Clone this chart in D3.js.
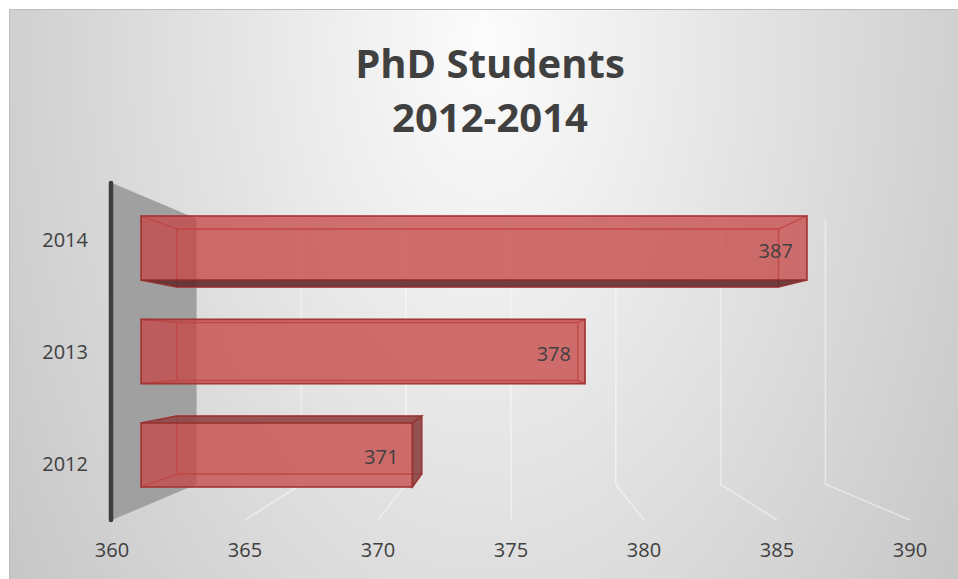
<!DOCTYPE html>
<html>
<head>
<meta charset="utf-8">
<script src="https://cdn.jsdelivr.net/npm/d3@7"></script>
<style>
  body { margin: 0; background: #fff; }
  svg { display: block; }
  text { font-family: "Open Sans", sans-serif; fill: #404040; }
</style>
</head>
<body>
<svg id="chart" width="958" height="579"></svg>
<script>
var years = ["2014", "2013", "2012"]
var students = [387, 378, 371]
var xTicks = [360, 365, 370, 375, 380, 385, 390]
var titleLines = ["PhD Students", "2012-2014"]

main()

function main() {
  var WIDTH = 958
  var HEIGHT = 579
  var FRAME = 9
  var VP_X = 511
  var VP_Y = 351.5
  // perspective shrink factor for each depth plane
  var K_FRONT = 1
  var K_BAR_FRONT = 0.927
  var K_BAR_BACK = 0.838
  var K_WALL = 0.788

  var svg = d3.select('#chart')

  var x = d3.scaleLinear().domain([360, 390]).range([112, 910])
  var y = d3.scaleBand().domain(years).range([183, 520])
      .paddingInner(0.38).paddingOuter(0.2)

  function p(v, yy, k) {
    return [VP_X + (x(v) - VP_X) * k, VP_Y + (yy - VP_Y) * k]
  }
  function poly(pts) {
    return pts.map(function(d) { return d[0].toFixed(1) + "," + d[1].toFixed(1) }).join(" ")
  }

  var defs = svg.append("defs")
  var grad = defs.append("radialGradient")
      .attr("id", "bg")
      .attr("gradientUnits", "userSpaceOnUse")
      .attr("cx", 0).attr("cy", 0).attr("r", 1)
      .attr("gradientTransform", "translate(485,40) scale(580,980)")
  grad.append("stop").attr("offset", 0).attr("stop-color", "#fcfcfc")
  grad.append("stop").attr("offset", 1).attr("stop-color", "#c6c6c6")

  svg.append("rect")
      .attr("x", FRAME).attr("y", FRAME)
      .attr("width", WIDTH - FRAME).attr("height", HEIGHT - FRAME)
      .attr("fill", "url(#bg)")
  svg.append("path")
      .attr("d", "M" + (FRAME + 0.5) + "," + HEIGHT + "V" + (FRAME + 0.5) + "H" + WIDTH)
      .attr("fill", "none")
      .attr("stroke", "#bdbdbd")

  var top = y.range()[0]
  var bottom = y.range()[1]

  // back wall and side wall grid lines
  svg.append("g").selectAll("path")
      .data(xTicks.slice(1))
      .join("path")
      .attr("d", function(v) {
        var a = p(v, top, K_WALL), b = p(v, bottom, K_WALL), c = p(v, bottom, K_FRONT)
        return "M" + a + "L" + b + "L" + c
      })
      .attr("fill", "none")
      .attr("stroke", "#ffffff")
      .attr("stroke-opacity", 0.45)
      .attr("stroke-width", 1.6)

  // floor (left wall)
  svg.append("polygon")
      .attr("points", poly([p(360, top, K_FRONT), p(360, top, K_WALL), p(360, bottom, K_WALL), p(360, bottom, K_FRONT)]))
      .attr("fill", "#a0a0a0")

  svg.append("line")
      .attr("x1", x(360) - 1).attr("x2", x(360) - 1)
      .attr("y1", top).attr("y2", bottom)
      .attr("stroke", "#3d3d3d")
      .attr("stroke-width", 4.5)
      .attr("stroke-linecap", "round")

  // bars
  var bars = svg.append("g")
  years.forEach(function(year, i) {
    var v = students[i]
    var y0 = y(year), y1 = y(year) + y.bandwidth()
    var F = [p(360, y0, K_BAR_FRONT), p(v, y0, K_BAR_FRONT), p(v, y1, K_BAR_FRONT), p(360, y1, K_BAR_FRONT)]
    var B = [p(360, y0, K_BAR_BACK), p(v, y0, K_BAR_BACK), p(v, y1, K_BAR_BACK), p(360, y1, K_BAR_BACK)]

    var sides = [
      { pts: [F[0], B[0], B[3], F[3]], visible: false, color: "#8c3e3e" },
      { pts: [F[1], B[1], B[2], F[2]], visible: v < 375, color: "#8a4141" },
      { pts: [F[0], F[1], B[1], B[0]], visible: y0 > VP_Y, color: "#904545" },
      { pts: [F[3], F[2], B[2], B[3]], visible: y1 < VP_Y, color: "#5e2b2b" }
    ]

    var g = bars.append("g")

    g.append("polygon")
        .attr("points", poly(B))
        .attr("fill", "#c44848").attr("fill-opacity", 0.2)
        .attr("stroke", "#b53a3a").attr("stroke-opacity", 0.6).attr("stroke-width", 1.3)

    sides.filter(function(s) { return !s.visible }).forEach(function(s) {
      g.append("polygon")
          .attr("points", poly(s.pts))
          .attr("fill", "#b84040").attr("fill-opacity", 0.12)
          .attr("stroke", "#b53a3a").attr("stroke-opacity", 0.6).attr("stroke-width", 1.3)
    })

    g.append("polygon")
        .attr("points", poly(F))
        .attr("fill", "#c64646").attr("fill-opacity", 0.72)
        .attr("stroke", "#a03030").attr("stroke-opacity", 0.85).attr("stroke-width", 1.7)

    sides.filter(function(s) { return s.visible }).forEach(function(s) {
      g.append("polygon")
          .attr("points", poly(s.pts))
          .attr("fill", s.color).attr("fill-opacity", 0.88)
          .attr("stroke", "#963030").attr("stroke-opacity", 0.85).attr("stroke-width", 1.4)
    })

    var mid = p(v, (y0 + y1) / 2, K_BAR_FRONT)
    g.append("text")
        .attr("x", mid[0] - 14)
        .attr("y", mid[1] + 2)
        .attr("text-anchor", "end")
        .attr("dominant-baseline", "central")
        .attr("font-size", 20)
        .text(v)
  })

  // category labels
  svg.append("g").selectAll("text")
      .data(years)
      .join("text")
      .attr("x", 88)
      .attr("y", function(d) { return y(d) + y.bandwidth() / 2 })
      .attr("text-anchor", "end")
      .attr("dominant-baseline", "central")
      .attr("font-size", 20)
      .text(function(d) { return d })

  // value axis labels
  svg.append("g").selectAll("text")
      .data(xTicks)
      .join("text")
      .attr("x", function(d) { return x(d) })
      .attr("y", 549)
      .attr("text-anchor", "middle")
      .attr("dominant-baseline", "central")
      .attr("font-size", 20)
      .text(function(d) { return d })

  svg.append("g").selectAll("text")
      .data(titleLines)
      .join("text")
      .attr("x", 490)
      .attr("y", function(d, i) { return 78 + i * 54 })
      .attr("text-anchor", "middle")
      .attr("font-size", 40)
      .attr("font-weight", "bold")
      .text(function(d) { return d })
}
</script>
</body>
</html>
